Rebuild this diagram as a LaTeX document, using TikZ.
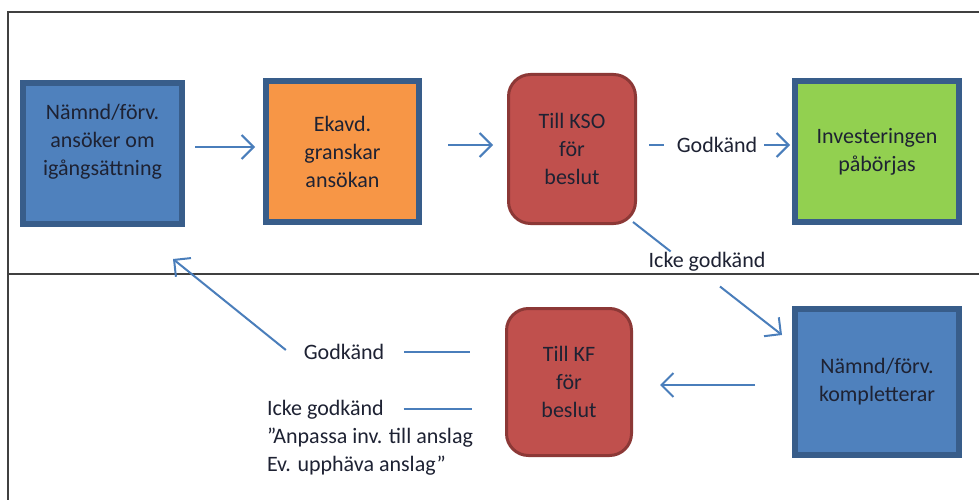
\documentclass[tikz,border=0pt]{standalone}
\usepackage{fontspec}
\setmainfont{Carlito}
\usetikzlibrary{arrows.meta,calc}
\definecolor{bord}{HTML}{385D8A}
\definecolor{bfill}{HTML}{4F81BD}
\definecolor{ofill}{HTML}{F79646}
\definecolor{gfill}{HTML}{92D050}
\definecolor{rfill}{HTML}{C0504D}
\definecolor{rbord}{HTML}{8C3836}
\definecolor{arrc}{HTML}{4A7EBB}
\definecolor{txt}{HTML}{1E2233}
\definecolor{frm}{HTML}{404040}
\begin{document}
\begin{tikzpicture}[x=1pt,y=-1pt,
 every node/.style={font=\fontsize{22}{28}\selectfont, text=txt},
 sqbox/.style={draw=bord, line width=6pt, inner sep=0pt, outer sep=0pt, align=center},
 rbox/.style={draw=rbord, fill=rfill, line width=3pt, rounded corners=22pt, inner sep=0pt, outer sep=0pt, align=center},
 lbl/.style={inner sep=0pt, outer sep=0pt},
 ln/.style={draw=arrc, line width=2pt},
 arr/.style={ln, -{Straight Barb[length=12pt,width=24pt]}},
 frameline/.style={draw=frm, line width=2.5pt}
]
\useasboundingbox (0,0) rectangle (979,500);
\fill[white] (0,0) rectangle (979,500);
\draw[frameline] (8,500) -- (8,12) -- (979,12);
\draw[frameline] (8,274) -- (979,274);

\node[sqbox, fill=bfill, minimum width=159pt, minimum height=141pt] (n1) at (102.5,153.5) {Nämnd/förv.\\ansöker om\\igångsättning\\~};
\node[sqbox, fill=ofill, minimum width=153pt, minimum height=141pt] (n2) at (342.5,151.5) {Ekavd.\\granskar\\ansökan};
\node[rbox, minimum width=127pt, minimum height=149pt] (n3) at (572,149) {Till KSO\\för\\beslut};
\node[sqbox, fill=gfill, minimum width=164pt, minimum height=141pt] (n4) at (877,151.5) {Investeringen\\påbörjas};
\node[rbox, minimum width=125pt, minimum height=147pt] (n5) at (569,382) {Till KF\\för\\beslut};
\node[sqbox, fill=bfill, minimum width=164pt, minimum height=146pt] (n6) at (877,382) {Nämnd/förv.\\kompletterar};

\node[lbl] (g1) at (717,145) {Godkänd};
\node[lbl] (ig) at (707,262) {Icke godkänd};
\node[lbl] (g2) at (344,352) {Godkänd};
\node[lbl, anchor=base west] (ik) at (267,415) {Icke godkänd};
\node[lbl, anchor=base west] (q1) at (267,443) {”Anpassa inv. till anslag};
\node[lbl, anchor=base west] (q2) at (267,471) {Ev. upphäva anslag”};

\draw[arr] ($(n1.east |- 0,147)+(13,0)$) -- ($(n2.west |- 0,147)+(-11,0)$);
\draw[arr] ($(n2.east |- 0,145)+(29,0)$) -- ($(n3.west |- 0,145)+(-15.5,0)$);
\draw[ln, shorten <=13.5pt, shorten >=13pt] (n3.east |- g1) -- (g1.west);
\draw[arr, shorten <=7pt, shorten >=5pt] (g1.east) -- (n4.west |- g1.east);
\draw[ln] ($(n3.south east)+(-2.5,-1.5)$) -- ($(ig.north west)+(22,-1)$);
\draw[arr] ($(ig.south)+(13,15)$) -- ($(n6.north west)+(-13,26)$);
\draw[arr, shorten <=40pt, shorten >=28.5pt] ($(n6.west)+(0,3)$) -- ($(n5.east)+(0,3)$);
\draw[ln, shorten <=20pt, shorten >=36.5pt] (g2.east) -- (n5.west |- g2.east);
\draw[arr] ($(g2.west)+(-18,-2)$) -- ($(n1.south)+(70.5,35)$);
\draw[ln, shorten <=20pt, shorten >=34.5pt] (ik.east) -- (n5.west |- ik.east);
\end{tikzpicture}
\end{document}
